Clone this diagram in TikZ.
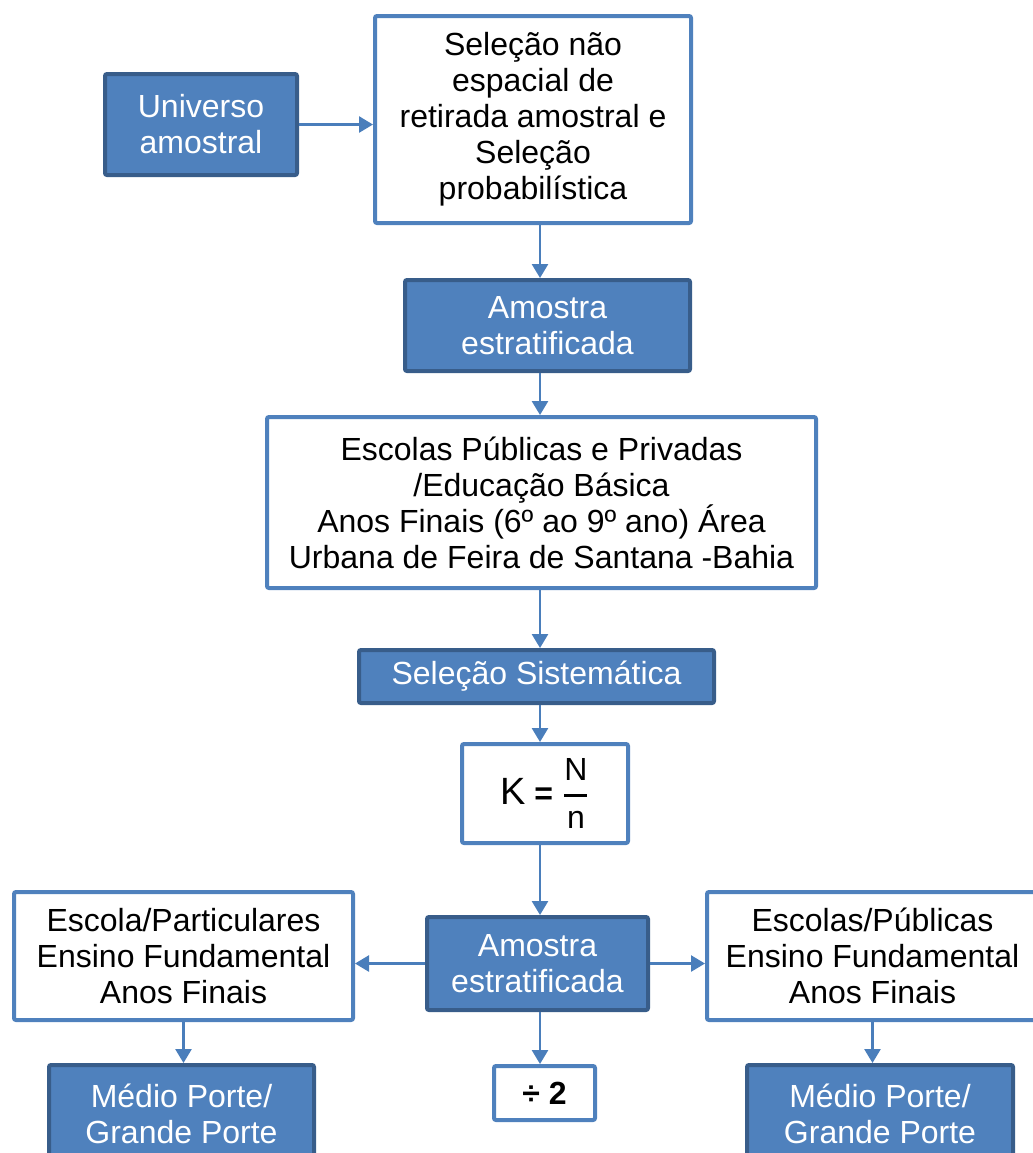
\documentclass[tikz,border=0pt]{standalone}
\usepackage{fontspec}
\setmainfont{Liberation Sans}
\usetikzlibrary{arrows.meta}
\definecolor{boxblue}{HTML}{4F81BD}
\definecolor{boxedge}{HTML}{385D8A}
\definecolor{linkblue}{HTML}{4A7EBB}

\begin{document}
\begin{tikzpicture}[x=0.5pt,y=-0.5pt,
  every node/.style={font=\fontsize{16}{18}\selectfont,align=center,inner sep=0pt},
  dark node/.style={rectangle,draw=boxedge,fill=boxblue,line width=2pt,text=white,rounded corners=1pt},
  light node/.style={rectangle,draw=boxblue,fill=white,line width=2pt,rounded corners=1pt},
  link/.style={draw=linkblue,line width=1.3pt,-{Triangle[width=8pt,length=7pt]}}]
  \useasboundingbox (0,0) rectangle (1033,1153);
  \coordinate (spine) at (540,0);

  \node[dark node,minimum width=96pt,minimum height=50.5pt] (univ) at (201,124.5) {Universo\\amostral};
  \node[light node,minimum width=158pt,minimum height=103.5pt] (sel) at (533,119.5)
    {Seleção não\\espacial de\\retirada amostral e\\Seleção\\probabilística};
  \node[dark node,minimum width=142.5pt,minimum height=45.5pt] (amo1) at (547.5,325.5) {Amostra\\estratificada};
  \node[light node,minimum width=274.5pt,minimum height=85.5pt] (esc) at (541.5,502.5)
    {Escolas Públicas e Privadas\\/Educação Básica\\Anos Finais (6º ao 9º ano) Área\\Urbana de Feira de Santana -Bahia};
  \node[dark node,minimum width=177.5pt,minimum height=26.5pt] (sist) at (536.5,676.5) {Seleção Sistemática};
  \node[light node,minimum width=83pt,minimum height=49.5pt] (kbox) at (545,793.5)
    {{\fontsize{19}{20}\selectfont K} {\bfseries =}
     $\displaystyle{\hbox{N}\above1.4pt\hbox{n}}$};
  \node[dark node,minimum width=110.5pt,minimum height=46.5pt] (amo2) at (537.5,963.5) {Amostra\\estratificada};
  \node[light node,minimum width=169.5pt,minimum height=64pt] (part) at (183.5,956)
    {Escola/Particulares\\Ensino Fundamental\\Anos Finais};
  \node[light node,minimum width=165.5pt,minimum height=64pt] (pub) at (872.5,956)
    {Escolas/Públicas\\Ensino Fundamental\\Anos Finais};
  \node[dark node,minimum width=132.5pt,minimum height=49pt] (mp1) at (181.5,1114) {Médio Porte/\\Grande Porte};
  \node[light node,minimum width=50.5pt,minimum height=27pt] (div) at (544.5,1093) {\bfseries ÷ 2};
  \node[dark node,minimum width=133pt,minimum height=49pt] (mp2) at (880,1114) {Médio Porte/\\Grande Porte};

  \draw[link] (univ.east) -- (univ.east -| sel.west);
  \draw[link] (sel.south -| spine) -- (amo1.north -| spine);
  \draw[link] (amo1.south -| spine) -- (esc.north -| spine);
  \draw[link] (esc.south -| spine) -- (sist.north -| spine);
  \draw[link] (sist.south -| spine) -- (kbox.north -| spine);
  \draw[link] (kbox.south -| spine) -- (amo2.north -| spine);
  \draw[link] (amo2.west) -- (amo2.west -| part.east);
  \draw[link] (amo2.east) -- (amo2.east -| pub.west);
  \draw[link] (amo2.south -| spine) -- (div.north -| spine);
  \draw[link] (part.south) -- (part.south |- mp1.north);
  \draw[link] (pub.south) -- (pub.south |- mp2.north);
\end{tikzpicture}
\end{document}
